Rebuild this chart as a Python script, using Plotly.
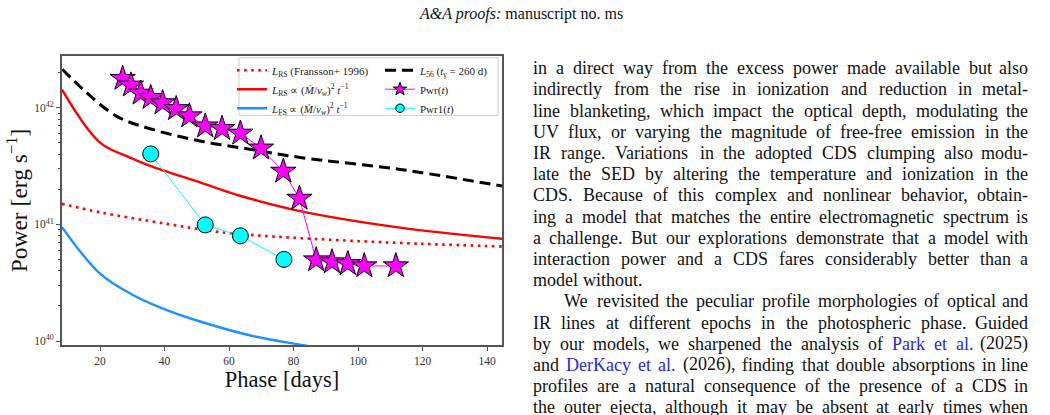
import plotly.graph_objects as go

W, H = 1050, 415

# ---------------- data ----------------
# Pwr(t) stars
pwr_days = [27.0, 29.6, 32.6, 35.7, 39.4, 43.6, 47.7, 52.6, 57.8, 63.5, 69.9, 76.8, 81.8,
            87.0, 91.9, 96.8, 101.9, 111.7]
pwr_vals = [1.78e42, 1.56e42, 1.33e42, 1.22e42, 1.10e42, 9.8e41, 8.5e41, 6.96e41, 6.62e41,
            6.04e41, 4.50e41, 2.85e41, 1.67e41, 4.95e40, 4.76e40, 4.60e40, 4.40e40, 4.40e40]

# Pwr1(t) circles
pwr1_days = [35.7, 52.6, 63.5, 77.0]
pwr1_vals = [4.02e41, 9.9e40, 7.98e40, 5.01e40]

# L_RS (Fransson+ 1996), red dotted
rsf_days = [8.2, 20.0, 40.7, 56.2, 65.5, 82.0, 119.2, 144.6]
rsf_vals = [1.50e41, 1.27e41, 1.01e41, 8.65e40, 8.18e40, 7.62e40, 6.82e40, 6.47e40]

# L_RS ∝ (Mdot/v_w)^2 t^-1, red solid
rs_days = [8.2, 20.0, 29.3, 35.5, 51.0, 63.4, 82.0, 113.0, 144.6]
rs_vals = [1.43e42, 5.02e41, 3.74e41, 3.18e41, 2.29e41, 1.76e41, 1.30e41, 9.38e40, 7.52e40]

# L_FS ∝ (Mdot/v_w)^2 t^-1, blue solid
fs_days = [8.2, 20.0, 30.3, 40.7, 51.0, 66.4, 83.0, 100.0]
fs_vals = [9.48e40, 3.78e40, 2.47e40, 1.84e40, 1.47e40, 1.12e40, 9.2e39, 7.7e39]

# L_56 (t_gamma = 260 d), black dashed
l56_days = [8.3, 14.8, 25.1, 35.5, 51.0, 66.4, 82.0, 113.0, 144.6]
l56_vals = [2.14e42, 1.43e42, 8.47e41, 6.61e41, 5.19e41, 4.41e41, 3.75e41, 2.96e41, 2.13e41]

x_ticks = [20, 40, 60, 80, 100, 120, 140]
y_ticks = [1e40, 1e41, 1e42]
y_ticktext = ["10<sup>40</sup>", "10<sup>41</sup>", "10<sup>42</sup>"]
y_minor = [float(m) * 10.0 ** e for e in (40, 41) for m in range(2, 10)] + [2e42]

header = "<i>A&A proofs:</i> manuscript no. ms"
# "§" marks a word set in link blue; lines flagged False are not justified
body_lines = [
    ("in a direct way from the excess power made available but also", True),
    ("indirectly from the rise in ionization and reduction in metal-", True),
    ("line blanketing, which impact the optical depth, modulating the", True),
    ("UV flux, or varying the magnitude of free-free emission in the", True),
    ("IR range. Variations in the adopted CDS clumping also modu-", True),
    ("late the SED by altering the temperature and ionization in the", True),
    ("CDS. Because of this complex and nonlinear behavior, obtain-", True),
    ("ing a model that matches the entire electromagnetic spectrum is", True),
    ("a challenge. But our explorations demonstrate that a model with", True),
    ("interaction power and a CDS fares considerably better than a", True),
    ("model without.", False),
    ("We revisited the peculiar profile morphologies of optical and", True),
    ("IR lines at different epochs in the photospheric phase. Guided", True),
    ("by our models, we sharpened the analysis of §Park §et §al. (2025)", True),
    ("and §DerKacy §et §al. (2026), finding that double absorptions in line", True),
    ("profiles are a natural consequence of the presence of a CDS in", True),
    ("the outer ejecta, although it may be absent at early times when", True),
]

# ---------------- layout geometry ----------------
X0, X1 = 62, 502      # plot area in px
Y0, Y1 = 56, 347
SERIF = "Liberation Serif"
TXT_L, TXT_R, TXT_INDENT = 532, 1029, 563
TXT_SIZE, LINE_Y0, LINE_DY = 18, 68.5, 21.3
LINK = "#2a2ad4"

# approximate Times advance widths (1/1000 em) for justification
_w = dict(zip("abcdefghijklmnopqrstuvwxyz",
              [444, 500, 444, 500, 444, 333, 500, 500, 278, 278, 500, 278, 778, 500, 500,
               500, 500, 333, 389, 278, 500, 500, 722, 500, 500, 444]))
_w.update(zip("ABCDEFGHIJKLMNOPQRSTUVWXYZ",
              [722, 667, 667, 722, 611, 556, 722, 722, 333, 389, 722, 611, 889, 722, 722,
               556, 722, 667, 556, 611, 722, 722, 944, 722, 722, 611]))
_w.update({c: 500 for c in "0123456789"})
_w.update({".": 250, ",": 250, "-": 333, "(": 333, ")": 333, ":": 278, ";": 278, " ": 250})


def text_w(s):
    return sum(_w.get(c, 500) for c in s) * TXT_SIZE / 1000.0


def px(x):
    return x / W


def py(y):
    return 1 - y / H


NAME_RSF = "<i>L</i><sub>RS</sub> (Fransson+ 1996)"
NAME_RS = "<i>L</i><sub>RS</sub> ∝ (<i>Ṁ</i>/<i>v<sub>w</sub></i>)<sup>2</sup> <i>t</i><sup>−1</sup>"
NAME_FS = "<i>L</i><sub>FS</sub> ∝ (<i>Ṁ</i>/<i>v<sub>w</sub></i>)<sup>2</sup> <i>t</i><sup>−1</sup>"
NAME_56 = "<i>L</i><sub>56</sub> (<i>t</i><sub>γ</sub> = 260 d)"
NAME_PWR = "Pwr(<i>t</i>)"
NAME_PWR1 = "Pwr1(<i>t</i>)"

fig = go.Figure()

fig.add_trace(go.Scatter(
    x=rsf_days, y=rsf_vals, mode="lines", legend="legend",
    line=dict(color="#ff0000", width=2.6, dash="2.6px,4.5px", shape="spline"),
    name=NAME_RSF))
fig.add_trace(go.Scatter(
    x=rs_days, y=rs_vals, mode="lines", legend="legend",
    line=dict(color="#ff0000", width=2.4, shape="spline"),
    name=NAME_RS))
fig.add_trace(go.Scatter(
    x=fs_days, y=fs_vals, mode="lines", legend="legend",
    line=dict(color="#1e90ff", width=2.4, shape="spline"),
    name=NAME_FS))
fig.add_trace(go.Scatter(
    x=l56_days, y=l56_vals, mode="lines", legend="legend2",
    line=dict(color="#000000", width=3, dash="11px,6px", shape="spline"),
    name=NAME_56))
fig.add_trace(go.Scatter(
    x=pwr_days, y=pwr_vals, mode="lines+markers", showlegend=False,
    line=dict(color="#ff00ff", width=1),
    marker=dict(symbol="star", size=19, color="#ff00ff", line=dict(color="#000000", width=1)),
    name=NAME_PWR))
fig.add_trace(go.Scatter(
    x=pwr1_days, y=pwr1_vals, mode="lines+markers", showlegend=False,
    line=dict(color="#00ffff", width=1),
    marker=dict(symbol="circle", size=16, color="#00ffff", line=dict(color="#000000", width=1)),
    name=NAME_PWR1))
# legend entries with the small handle markers used in the reference legend
fig.add_trace(go.Scatter(
    x=[None], y=[None], mode="lines+markers", legend="legend2",
    line=dict(color="#ff00ff", width=1),
    marker=dict(symbol="star", size=10, color="#ff00ff", line=dict(color="#000000", width=1)),
    name=NAME_PWR, hoverinfo="skip"))
fig.add_trace(go.Scatter(
    x=[None], y=[None], mode="lines+markers", legend="legend2",
    line=dict(color="#00ffff", width=1),
    marker=dict(symbol="circle", size=8.5, color="#00ffff", line=dict(color="#000000", width=1)),
    name=NAME_PWR1, hoverinfo="skip"))

axis_common = dict(
    showline=True, linecolor="#555555", linewidth=1.6, mirror=True,
    showgrid=False, zeroline=False, ticks="outside", ticklen=4, tickwidth=1,
    tickcolor="#555555", tickfont=dict(family=SERIF, size=11.5, color="#333333"),
)

legend_common = dict(
    bgcolor="rgba(0,0,0,0)", borderwidth=0, orientation="v",
    font=dict(family=SERIF, size=11, color="#222222"),
    itemsizing="trace", tracegroupgap=0,
    xanchor="left", yanchor="top",
)

annotations = [
    dict(text=header, x=px(521), y=py(14), xref="paper", yref="paper",
         xanchor="center", yanchor="middle", showarrow=False, borderpad=0,
         font=dict(family=SERIF, size=16, color="#111111")),
]

for i, (line, justify) in enumerate(body_lines):
    y = py(LINE_Y0 + i * LINE_DY)
    x_start = TXT_INDENT if i == 11 else TXT_L
    words = line.split(" ")
    plain = [w.lstrip("§") for w in words]
    widths = [text_w(w) for w in plain]
    if justify and len(words) > 1:
        gap = (TXT_R - x_start - sum(widths)) / (len(words) - 1)
    else:
        gap = text_w(" ")
    x = x_start
    for j, (w, pw, ww) in enumerate(zip(words, plain, widths)):
        color = LINK if w.startswith("§") else "#111111"
        last = justify and j == len(words) - 1 and len(words) > 1
        annotations.append(dict(
            text=pw, x=px(TXT_R if last else x), y=y, xref="paper", yref="paper",
            xanchor="right" if last else "left", yanchor="middle", showarrow=False,
            borderpad=0, font=dict(family=SERIF, size=TXT_SIZE, color=color)))
        x += ww + gap

fig.update_layout(
    width=W, height=H, margin=dict(l=0, r=0, t=0, b=0),
    paper_bgcolor="white", plot_bgcolor="white",
    xaxis=dict(domain=[px(X0), px(X1)], range=[8.2, 144.6], tickvals=x_ticks,
               title=dict(text="Phase [days]", font=dict(family=SERIF, size=22.5, color="#111111"),
                          standoff=0),
               **axis_common),
    yaxis=dict(domain=[py(Y1), py(Y0)], type="log", range=[39.963, 42.446],
               tickvals=y_ticks, ticktext=y_ticktext,
               minor=dict(tickvals=y_minor, ticks="outside", ticklen=2, tickcolor="#555555",
                          showgrid=False),
               title=dict(text="Power [erg s<sup>−1</sup>]",
                          font=dict(family=SERIF, size=23.5, color="#111111"), standoff=0),
               **axis_common),
    legend=dict(x=px(232), y=py(56), **legend_common),
    legend2=dict(x=px(380), y=py(56), **legend_common),
    shapes=[dict(type="rect", xref="paper", yref="paper", layer="below",
                 x0=px(239), x1=px(498), y0=py(116), y1=py(58),
                 fillcolor="white", line=dict(color="#cccccc", width=1))],
    annotations=annotations,
    showlegend=True,
)

fig.write_html("out.html")
